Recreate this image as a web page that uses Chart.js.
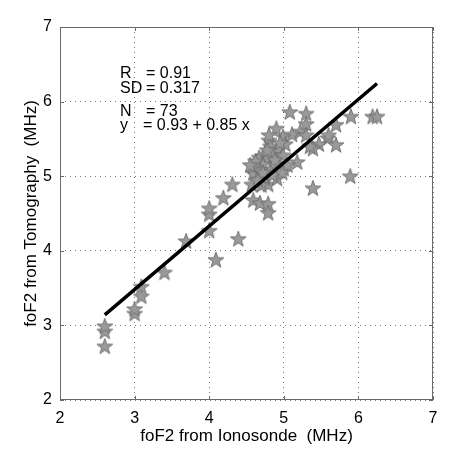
<!DOCTYPE html>
<html>
<head>
<meta charset="utf-8">
<script src="https://cdn.jsdelivr.net/npm/chart.js@4"></script>
<style>
  html, body { margin: 0; padding: 0; background: #fff; }
  #wrap { width: 460px; height: 462px; }
</style>
</head>
<body>
<div id="wrap"><canvas id="c" width="460" height="462"></canvas></div>
<script>
// foF2 ionosonde (x) vs tomography (y), MHz
const ionosonde = [
  2.60, 2.60, 2.60, 3.00, 3.00, 3.09, 3.09, 3.40, 3.69, 4.00,
  4.00, 4.00, 4.09, 4.19, 4.31, 4.39, 4.59, 4.57, 4.59, 4.68,
  4.79, 4.79, 4.79, 4.91, 5.39, 5.89, 5.08, 5.30, 5.30, 5.90,
  6.19, 6.25, 5.70, 4.90, 5.22, 5.11, 4.80, 4.99, 5.02, 5.30,
  5.59, 5.47, 5.70, 5.39, 4.82, 4.91, 4.72, 4.67, 4.79, 4.86,
  4.99, 4.72, 4.59, 4.92, 5.18, 4.82, 4.68, 4.75, 4.85, 4.70,
  5.00, 4.62, 4.78, 4.95, 5.05, 4.55, 4.88, 4.80, 5.35, 5.60,
  4.72, 4.98, 4.65
];
const tomography = [
  2.72, 2.92, 2.99, 3.16, 3.22, 3.39, 3.52, 3.71, 4.13, 4.27,
  4.49, 4.57, 3.88, 4.71, 4.89, 4.16, 5.04, 4.89, 4.68, 4.64,
  4.63, 4.51, 4.89, 4.97, 4.84, 5.00, 5.86, 5.84, 5.70, 5.80,
  5.80, 5.80, 5.69, 5.64, 5.60, 5.56, 5.48, 5.53, 5.43, 5.55,
  5.51, 5.43, 5.42, 5.37, 5.40, 5.36, 5.27, 5.25, 5.24, 5.28,
  5.28, 5.16, 5.13, 5.17, 5.19, 5.09, 5.08, 4.98, 5.02, 4.88,
  5.10, 5.20, 5.35, 5.45, 5.15, 5.15, 5.22, 5.55, 5.40, 5.55,
  5.05, 5.05, 4.95
];
const fitA = 0.93, fitB = 0.85;       // y = a + b x
const fitRange = [2.6, 6.25];
const axisTicks = [2, 3, 4, 5, 6, 7];
const statsLabels = ['R', 'SD', 'N', 'y'];
const statsValues = ['= 0.91', '= 0.317', '= 73', '= 0.93 + 0.85 x'];

const FONT = 'Helvetica, "Liberation Sans", Arial, sans-serif';

// filled five-pointed star marker
function makeStar(r) {
  const size = Math.ceil(r * 2 + 3);
  const cv = document.createElement('canvas');
  cv.width = size; cv.height = size;
  const g = cv.getContext('2d');
  const c = size / 2;
  g.beginPath();
  for (let i = 0; i < 10; i++) {
    const rad = i % 2 === 0 ? r : r * 0.4;
    const a = -Math.PI / 2 + i * Math.PI / 5;
    g.lineTo(c + rad * Math.cos(a), c + 0.6 + rad * Math.sin(a));
  }
  g.closePath();
  g.fillStyle = '#9a9a9a';
  g.fill();
  g.strokeStyle = '#707070';
  g.lineWidth = 1;
  g.stroke();
  return cv;
}
const star = makeStar(8.3);

const points = ionosonde.map((x, i) => ({ x: x, y: tomography[i] }));
const fitLine = fitRange.map(x => ({ x: x, y: fitA + fitB * x }));

// box, inward ticks and the statistics text
const frame = {
  id: 'frame',
  afterDatasetsDraw(chart) {
    const { ctx, chartArea: a, scales } = chart;
    ctx.save();
    ctx.strokeStyle = '#6a6a6a';
    ctx.lineWidth = 1;
    ctx.strokeRect(a.left + 0.5, a.top + 0.5, a.right - a.left - 1, a.bottom - a.top - 1);
    ctx.beginPath();
    axisTicks.forEach(t => {
      const px = Math.round(scales.x.getPixelForValue(t)) + 0.5;
      const py = Math.round(scales.y.getPixelForValue(t)) + 0.5;
      ctx.moveTo(px, a.bottom); ctx.lineTo(px, a.bottom - 4);
      ctx.moveTo(px, a.top); ctx.lineTo(px, a.top + 4);
      ctx.moveTo(a.left, py); ctx.lineTo(a.left + 4, py);
      ctx.moveTo(a.right, py); ctx.lineTo(a.right - 4, py);
    });
    ctx.stroke();

    ctx.fillStyle = '#000';
    ctx.font = '16px ' + FONT;
    ctx.textBaseline = 'alphabetic';
    const baselines = [78, 93, 116, 130];
    statsLabels.forEach((lab, i) => {
      ctx.fillText(lab, 120, baselines[i]);
      ctx.fillText(statsValues[i], i === 3 ? 143 : 146, baselines[i]);
    });
    ctx.restore();
  }
};

new Chart(document.getElementById('c'), {
  data: {
    datasets: [
      {
        type: 'line',
        data: fitLine,
        borderColor: '#000',
        borderWidth: 3.5,
        pointRadius: 0,
        fill: false,
        order: 1
      },
      {
        type: 'scatter',
        data: points,
        pointStyle: star,
        pointRadius: 9,
        order: 2
      }
    ]
  },
  options: {
    responsive: false,
    animation: false,
    events: [],
    layout: { padding: { top: 27, right: 27, left: 0, bottom: 0 } },
    plugins: { legend: { display: false }, tooltip: { enabled: false } },
    scales: {
      x: {
        type: 'linear', min: 2, max: 7,
        afterBuildTicks: s => { s.ticks = axisTicks.map(v => ({ value: v })); },
        afterFit: s => { s.height = 62; },
        border: { display: false, dash: [1, 4] },
        grid: { color: '#777', lineWidth: 1, drawTicks: false },
        ticks: { color: '#000', font: { family: FONT, size: 16 }, padding: 9, maxRotation: 0 },
        title: { display: true, text: 'foF2 from Ionosonde  (MHz)', color: '#000',
                 font: { family: FONT, size: 17 }, padding: { top: 0, bottom: 15 } }
      },
      y: {
        type: 'linear', min: 2, max: 7,
        afterBuildTicks: s => { s.ticks = axisTicks.map(v => ({ value: v })); },
        afterFit: s => { s.width = 60; },
        border: { display: false, dash: [1, 4] },
        grid: { color: '#777', lineWidth: 1, drawTicks: false },
        ticks: { color: '#000', font: { family: FONT, size: 16 }, padding: 8 },
        title: { display: true, text: 'foF2 from Tomography  (MHz)', color: '#000',
                 font: { family: FONT, size: 17 }, padding: { top: 21, bottom: 0 } }
      }
    }
  },
  plugins: [frame]
});
</script>
</body>
</html>
